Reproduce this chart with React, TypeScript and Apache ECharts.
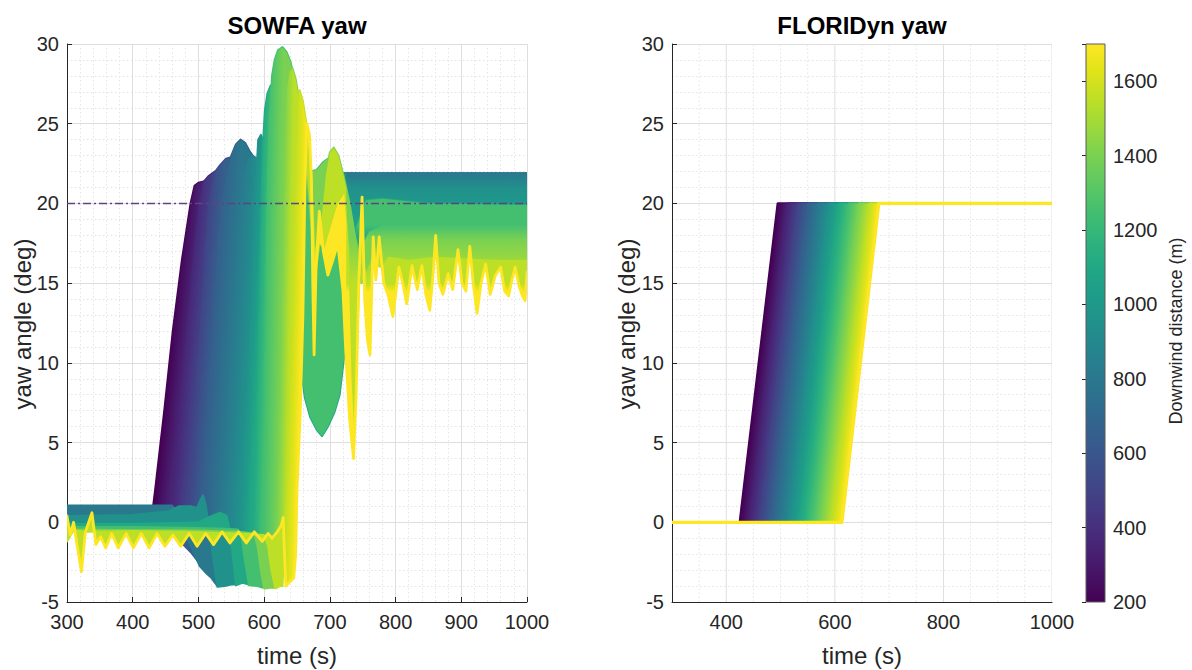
import React, { useEffect, useRef } from "react";
import * as echarts from "echarts";

// ---------------- data ----------------
const distances = [200, 350, 500, 650, 800, 950, 1100, 1250, 1400, 1550, 1700];

const sowfa200 = [[300,1.0],[350,1.0],[400,1.0],[431,1.0],[434,2],[448,7],[461,12],[475,16.5],[488,20],[494,21.1],[500,21.3],[510,21.4],[525,21.4],[560,21.5],[650,21.5],[800,21.5],[1000,21.5]];
const sowfa350 = [[300,1.0],[400,1.0],[446,1.0],[453,0.5],[457,0.2],[460,2],[471,7],[482,12],[492,16.5],[500,19.8],[507,21.3],[515,21.7],[525,22.0],[534,22.2],[545,22.0],[560,21.7],[600,21.6],[800,21.6],[1000,21.6]];
const sowfa500 = [[300,1.0],[400,1.0],[440,1.0],[455,0.4],[465,-0.5],[472,-1.0],[478,-1.3],[485,2],[494,7],[503,12],[510,16.5],[516,20],[524,21.9],[533,22.4],[542,22.8],[550,22.9],[560,22.6],[575,22.1],[600,21.8],[700,21.7],[1000,21.7]];
const sowfa650 = [[300,1.0],[400,1.0],[445,1.0],[455,0.6],[465,-0.3],[472,-1.0],[478,-1.45],[490,-1.95],[502,-2.6],[507,2],[515,7],[522,12],[529,16.5],[535,20],[543,22.0],[550,23.0],[557,23.7],[564,24.0],[571,23.8],[579,23.2],[588,22.7],[603,22.1],[625,21.9],[700,21.9],[1000,21.9]];
const sowfa800 = [[300,1.05],[400,1.05],[460,1.05],[468,0.6],[476,-0.2],[485,-1.2],[495,-2.1],[502,-2.75],[512,-3.2],[520,-3.5],[529,-4.0],[536,2],[543,7],[550,12],[556,16.5],[562,20],[569,22.0],[576,22.8],[582,23.0],[590,22.8],[600,22.3],[615,22.0],[640,21.9],[700,21.9],[850,21.9],[1000,21.9]];
const sowfa950 = [[300,0.4],[400,0.45],[455,0.7],[470,1.0],[490,1.0],[498,0.9],[503,1.4],[507,1.7],[511,1.1],[515,0.0],[520,-1.5],[525,-3.0],[529,-4.05],[540,-4.0],[550,-3.9],[557,-3.9],[563,2],[571,7],[578,12],[583,17],[587,21],[591,24.0],[595,24.3],[600,23.8],[607,22.8],[618,21.8],[640,21.4],[680,21.2],[740,21.0],[820,20.9],[1000,20.9]];
const sowfa1100 = [[300,-0.1],[400,-0.1],[500,0.0],[515,0.3],[533,0.6],[543,0.4],[548,-0.5],[552,-2.0],[557,-3.95],[567,-3.8],[577,-3.9],[583,2],[589,8],[593,14],[596,20],[598,23.5],[601,25.8],[605,26.9],[610,27.4],[616,27.0],[624,25.5],[634,23.5],[644,22.0],[650,21.4],[654,20.5],[656,14],[658,9],[662,7.8],[670,6.6],[680,5.8],[688,5.4],[697,6.0],[707,6.9],[715,8.0],[722,10.5],[730,14.5],[740,18.5],[755,20.2],[780,20.3],[850,20.0],[1000,19.9]];
const sowfa1250 = [[300,-0.3],[400,-0.3],[480,-0.35],[540,-0.4],[560,-0.45],[566,-1.0],[571,-2.5],[577,-3.95],[590,-4.0],[597,-4.1],[600,2],[603,12],[605,20],[608,25],[612,28.0],[616,29.0],[621,29.6],[628,29.8],[634,29.5],[640,28.9],[647,27.6],[655,25.6],[663,23.5],[670,22.0],[680,22.1],[690,22.6],[700,22.9],[710,22.5],[720,21.2],[732,18.8],[745,17.0],[760,18.2],[790,18.8],[850,18.8],[1000,18.8]];
const sowfa1400 = [[300,-0.45],[400,-0.5],[480,-0.5],[560,-0.6],[585,-0.7],[590,-1.5],[595,-3.0],[600,-4.15],[610,-4.1],[617,-4.1],[621,2],[624,10],[627,18],[630,24],[634,27.0],[638,28.2],[643,28.5],[648,27.8],[654,26.3],[660,24.2],[666,21.5],[672,18.5],[679,17.0],[686,18.5],[694,21.8],[700,23.2],[706,23.5],[713,23.0],[721,21.7],[730,20.0],[740,17.5],[748,15.0],[756,15.8],[770,17.3],[800,17.7],[850,17.6],[1000,17.6]];
const sowfa1550 = [[300,-1.2],[310,-0.5],[330,-0.6],[400,-0.55],[480,-0.6],[560,-0.7],[600,-0.8],[606,-1.5],[611,-3.0],[617,-4.15],[624,-4.0],[628,-4.0],[634,2],[638,10],[642,17],[646,22.5],[650,26.0],[654,27.1],[659,26.4],[665,24.8],[670,22.5],[674,19.5],[678,15.5],[684,17.5],[692,17.2],[701,18.5],[712,20.0],[722,20.6],[728,17.0],[733,9.0],[737,5.5],[741,11.0],[746,16.5],[752,16.0],[758,14.8],[766,16.2],[780,16.0],[790,16.6],[820,16.4],[860,16.6],[900,16.5],[950,16.4],[1000,16.4]];
const sowfa1700 = [[300,0.4],[305,-0.8],[310,0.0],[316,-1.6],[322,-3.1],[328,-0.6],[338,0.6],[344,-1.4],[351,-0.9],[359,-1.6],[368,-0.7],[378,-1.6],[390,-0.7],[401,-1.6],[413,-0.7],[425,-1.6],[437,-0.7],[449,-1.5],[461,-0.8],[473,-1.5],[486,-0.7],[498,-1.5],[511,-0.7],[523,-1.4],[536,-0.6],[548,-1.3],[561,-0.6],[573,-1.3],[585,-0.6],[597,-1.2],[606,-0.7],[612,-1.0],[620,-0.6],[626,-0.2],[629,0.3],[631,-2.0],[633,-4.0],[640,-3.7],[645,-3.5],[648,-2.0],[650,2],[655,7],[659,13],[662,21],[665,25.0],[669,24.3],[672,21.5],[674,15],[676,10.5],[679,16],[684,19.5],[690,17.0],[697,15.5],[705,16.5],[712,17.5],[720,14.5],[725,10.0],[730,6.5],[736,4.0],[740,8.0],[744,15.0],[749,20.4],[753,14.0],[757,11.5],[761,10.5],[766,17.9],[770,15.2],[775,17.9],[782,15.0],[789,14.2],[796,12.9],[805,16.0],[811,15.0],[817,13.7],[825,16.1],[833,14.6],[840,16.1],[846,14.3],[852,13.3],[857,15.5],[861,18.0],[866,15.0],[872,14.3],[880,15.6],[887,14.6],[895,17.1],[901,15.0],[907,14.5],[913,17.3],[918,15.0],[924,13.1],[930,15.0],[937,16.2],[944,14.3],[952,15.5],[960,16.0],[966,14.5],[972,14.2],[977,15.2],[982,16.0],[988,14.8],[993,14.2],[997,13.9],[1000,15.7]];

const sowfaCurves = [sowfa200, sowfa350, sowfa500, sowfa650, sowfa800, sowfa950, sowfa1100, sowfa1250, sowfa1400, sowfa1550, sowfa1700];

// FLORIDyn: ramp start / end times per distance, before = 0 deg, after = 20 deg
const floriRampStart = [425, 444, 463, 481, 500, 519, 538, 557, 575, 594, 613];
const floriRampEnd = [495, 514, 533, 551, 570, 589, 608, 627, 645, 664, 681];
const floriBefore = 0;
const floriAfter = 20;
const referenceYaw = 20;

const xTicksRightMajor = [400, 600, 800, 1000];
const xTicksRightMinor = [350, 450, 500, 550, 650, 700, 750, 850, 900, 950];

// viridis colormap samples (every 0.05)
const viridis = ["#440154","#471365","#482475","#463480","#414487","#3b528b","#355f8d","#2f6c8e","#2a788e","#25848e","#21918c","#1e9c89","#22a884","#2fb47c","#44bf70","#5ec962","#7ad151","#9bd93c","#bddf26","#dfe318","#fde725"];
const cMin = 200, cMax = 1700;

// ---------------- helpers ----------------
function colorIdx(d: number) {
  return Math.round(((d - cMin) / (cMax - cMin)) * 20);
}
function crossPoint(curve: number[][], level: number) {
  for (let k = 1; k < curve.length; k++) {
    const [t0, y0] = curve[k - 1];
    const [t1, y1] = curve[k];
    if (y0 < level && y1 >= level) {
      const f = (level - y0) / (y1 - y0);
      return [t0 + f * (t1 - t0), level];
    }
  }
  return curve[curve.length - 1];
}
function sliceCurve(c: number[][], tA: number, tB: number) {
  const out: number[][] = [];
  for (let k = 0; k < c.length; k++) {
    const [t, y] = c[k];
    if (k > 0) {
      const [tp, yp] = c[k - 1];
      if (tp < tA && t > tA) out.push([tA, yp + ((y - yp) * (tA - tp)) / (t - tp)]);
      if (tp < tB && t > tB) out.push([tB, yp + ((y - yp) * (tB - tp)) / (t - tp)]);
    }
    if (t >= tA && t <= tB) out.push([t, y]);
  }
  return out;
}

function sweepSeries(curves: number[][][], idx: number, lo: number, hi: number, lw: number, lwLast: number, tSplit: number | null) {
  return {
    type: "custom",
    xAxisIndex: idx,
    yAxisIndex: idx,
    data: [[300, 0]],
    encode: { x: 0, y: 1 },
    clip: true,
    silent: true,
    z: 3,
    renderItem: (params: any, api: any) => {
      const toPx = (c: number[][]) => c.map((p) => api.coord(p));
      const cols = distances.map((d) => colorIdx(d));
      const children: any[] = [];
      for (let i = 0; i < curves.length; i++) {
        if (i > 0) {
          const cA = curves[i - 1], cB = curves[i];
          const c0 = cols[i - 1], c1 = cols[i];
          const cm = Math.round((c0 + c1) / 2);
          const stops = [
            { offset: 0, color: viridis[c0] },
            { offset: 0.5, color: viridis[cm] },
            { offset: 1, color: viridis[c1] },
          ];
          // ramp-normal gradient
          const A0 = api.coord(crossPoint(cA, lo));
          const B0 = api.coord(crossPoint(cA, hi));
          const A1 = api.coord(crossPoint(cB, lo));
          const B1 = api.coord(crossPoint(cB, hi));
          let dx = B0[0] - A0[0] + B1[0] - A1[0];
          let dy = B0[1] - A0[1] + B1[1] - A1[1];
          const len = Math.hypot(dx, dy) || 1;
          dx /= len; dy /= len;
          let nx = -dy, ny = dx;
          if (nx < 0) { nx = -nx; ny = -ny; }
          const M0 = [(A0[0] + B0[0]) / 2, (A0[1] + B0[1]) / 2];
          const M1 = [(A1[0] + B1[0]) / 2, (A1[1] + B1[1]) / 2];
          let dd = (M1[0] - M0[0]) * nx + (M1[1] - M0[1]) * ny;
          if (dd < 1) dd = 1;
          const grad = new echarts.graphic.LinearGradient(M0[0], M0[1], M0[0] + nx * dd, M0[1] + ny * dd, stops, true);

          const t0 = cA[0][0];
          const t1 = cA[cA.length - 1][0];
          const leftEnd = tSplit == null ? t1 : tSplit + 1;
          const la = toPx(sliceCurve(cA, t0, leftEnd));
          const lb = toPx(sliceCurve(cB, t0, leftEnd));
          children.push({
            type: "polygon",
            shape: { points: la.concat(lb.slice().reverse()) },
            style: { fill: grad, stroke: null },
          });
          if (tSplit != null) {
            const ra = sliceCurve(cA, tSplit, t1);
            const rb = sliceCurve(cB, tSplit, t1);
            const meanA = ra.reduce((s, p) => s + p[1], 0) / ra.length;
            const meanB = rb.reduce((s, p) => s + p[1], 0) / rb.length;
            const yA = api.coord([tSplit, meanA])[1];
            let yB = api.coord([tSplit, meanB])[1];
            if (Math.abs(yB - yA) < 1) yB = yA + 1;
            const vgrad = new echarts.graphic.LinearGradient(0, yA, 0, yB, stops, true);
            const pa = toPx(ra);
            const pb = toPx(rb);
            children.push({
              type: "polygon",
              shape: { points: pa.concat(pb.slice().reverse()) },
              style: { fill: vgrad, stroke: null },
            });
          }
        }
        children.push({
          type: "polyline",
          shape: { points: toPx(curves[i]) },
          style: {
            stroke: viridis[cols[i]],
            lineWidth: i === curves.length - 1 ? lwLast : lw,
            fill: null,
            lineJoin: "round",
            lineCap: "round",
          },
        });
      }
      return { type: "group", children };
    },
  };
}

function vGridSeries(values: number[], idx: number, dashed: boolean) {
  return {
    type: "custom",
    xAxisIndex: idx,
    yAxisIndex: idx,
    data: values.map((v) => [v, 0]),
    encode: { x: 0, y: 1 },
    clip: true,
    silent: true,
    z: 1,
    renderItem: (params: any, api: any) => {
      const v = api.value(0);
      const p0 = api.coord([v, -5]);
      const p1 = api.coord([v, 30]);
      return {
        type: "line",
        shape: { x1: p0[0], y1: p0[1], x2: p1[0], y2: p1[1] },
        style: dashed
          ? { stroke: "#e4e4e4", lineWidth: 1, lineDash: [1.5, 2.5] }
          : { stroke: "#dedede", lineWidth: 1 },
      };
    },
  };
}

const FONT = "'Liberation Sans', Arial, Helvetica, sans-serif";
const TXT = "#262626";

function valueAxisBase() {
  return {
    type: "value",
    axisLine: { show: true, onZero: false, lineStyle: { color: TXT, width: 1 } },
    axisTick: { show: true, inside: true, length: 5, lineStyle: { color: TXT } },
    axisLabel: { color: TXT, fontSize: 20, fontFamily: FONT },
    splitLine: { show: true, lineStyle: { color: "#dedede", width: 1 } },
    minorTick: { show: false, splitNumber: 5 },
    minorSplitLine: { show: true, lineStyle: { color: "#e4e4e4", width: 1, type: [1.5, 2.5] } },
  };
}

function text(x: number, y: number, s: string, font: string, rot = 0, fill = TXT) {
  return {
    type: "text",
    x, y, rotation: rot,
    silent: true,
    z: 50,
    style: { text: s, font, fill, align: "center", verticalAlign: "middle", textAlign: "center", textVerticalAlign: "middle" },
  };
}

function buildOption() {
  const floriCurves = floriRampStart.map((s, i) => [
    [300, floriBefore],
    [s, floriBefore],
    [floriRampEnd[i], floriAfter],
    [1000, floriAfter],
  ]);

  const base = valueAxisBase();
  const leftX = { ...base, gridIndex: 0, min: 300, max: 1000, interval: 100, axisLabel: { ...base.axisLabel, margin: 10, formatter: (v: number) => String(v) } };
  const rightX = {
    ...base,
    gridIndex: 1, min: 300, max: 1000, interval: 100,
    axisTick: { show: false },
    splitLine: { show: false },
    minorSplitLine: { show: false },
    axisLabel: { ...base.axisLabel, margin: 10, formatter: (v: number) => (v % 200 === 0 ? String(v) : "") },
  };
  const leftY = { ...base, gridIndex: 0, min: -5, max: 30, interval: 5, axisLabel: { ...base.axisLabel, margin: 8 } };
  const rightY = { ...base, gridIndex: 1, min: -5, max: 30, interval: 5, axisLabel: { ...base.axisLabel, margin: 8 } };

  const cbX = { type: "value", gridIndex: 2, min: 0, max: 1, show: false };
  const cbY = {
    type: "value", gridIndex: 2, min: cMin, max: cMax, interval: 200, position: "right",
    axisLine: { show: false },
    axisTick: { show: true, inside: true, length: 4, lineStyle: { color: TXT } },
    axisLabel: { color: TXT, fontSize: 20, fontFamily: FONT, margin: 8, formatter: (v: number) => (v % 200 === 0 ? String(v) : "") },
    splitLine: { show: false },
  };

  const colorbarSeries = {
    type: "custom",
    xAxisIndex: 2,
    yAxisIndex: 2,
    data: [[0, cMin]],
    encode: { x: 0, y: 1 },
    silent: true,
    renderItem: (params: any, api: any) => {
      const p0 = api.coord([0, cMax]);
      const p1 = api.coord([1, cMin]);
      const stops = viridis.map((c, k) => ({ offset: k / 20, color: c }));
      return {
        type: "rect",
        shape: { x: p0[0], y: p0[1], width: p1[0] - p0[0], height: p1[1] - p0[1] },
        style: { fill: new echarts.graphic.LinearGradient(0, 1, 0, 0, stops), stroke: "#5a5a5a", lineWidth: 1 },
      };
    },
  };

  const refLine = {
    type: "line",
    xAxisIndex: 0,
    yAxisIndex: 0,
    data: [[300, referenceYaw], [1000, referenceYaw]],
    symbol: "none",
    silent: true,
    z: 10,
    lineStyle: { color: "#5e4380", width: 1.4, type: [8, 3, 2, 3] },
  };

  return {
    animation: false,
    backgroundColor: "#ffffff",
    grid: [
      { left: 67, top: 44, width: 460, height: 558 },
      { left: 672, top: 44, width: 380, height: 558 },
      { left: 1086, top: 44, width: 19, height: 558 },
    ],
    xAxis: [leftX, rightX, cbX],
    yAxis: [leftY, rightY, cbY],
    series: [
      sweepSeries(sowfaCurves, 0, 2, 12, 2.0, 2.8, 725),
      refLine,
      vGridSeries(xTicksRightMajor, 1, false),
      vGridSeries(xTicksRightMinor, 1, true),
      sweepSeries(floriCurves, 1, 3, 17, 2.6, 3.2, null),
      colorbarSeries,
    ],
    graphic: {
      elements: [
        text(297, 25, "SOWFA yaw", `bold 24px ${FONT}`, 0, "#000"),
        text(862, 25, "FLORIDyn yaw", `bold 24px ${FONT}`, 0, "#000"),
        text(297, 655, "time (s)", `24px ${FONT}`),
        text(862, 655, "time (s)", `24px ${FONT}`),
        text(22, 324, "yaw angle (deg)", `24px ${FONT}`, Math.PI / 2),
        text(626, 324, "yaw angle (deg)", `24px ${FONT}`, Math.PI / 2),
        text(1176, 331, "Downwind distance (m)", `18px ${FONT}`, Math.PI / 2),
      ],
    },
  };
}

export default function App() {
  const ref = useRef<HTMLDivElement>(null);
  useEffect(() => {
    document.body.style.margin = "0";
    const chart = echarts.init(ref.current as HTMLDivElement, null, { renderer: "svg" });
    chart.setOption(buildOption() as any);
    return () => chart.dispose();
  }, []);
  return <div ref={ref} style={{ width: 1192, height: 670 }} />;
}
